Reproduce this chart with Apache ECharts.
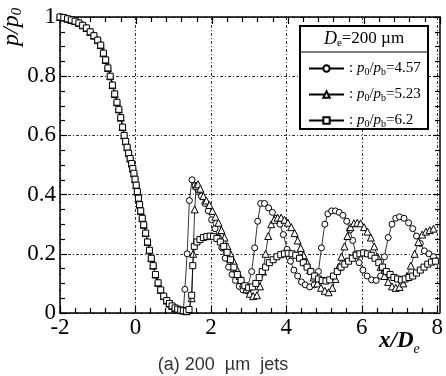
<!DOCTYPE html>
<html>
<head>
<meta charset="utf-8">
<script src="https://cdn.jsdelivr.net/npm/echarts@6/dist/echarts.min.js"></script>
<style>
html,body{margin:0;padding:0;background:#fff;}
#main{width:446px;height:376px;}
</style>
</head>
<body>
<div id="main"></div>
<script>
// Shared decline region (all three series overlap here)
var decline = [
  [-2.0,1.0],[-1.9,0.998],[-1.8,0.994],[-1.7,0.99],[-1.6,0.986],[-1.5,0.98],[-1.4,0.972],
  [-1.3,0.963],[-1.2,0.95],[-1.1,0.937],[-1.0,0.922],[-0.92,0.905],[-0.85,0.878],[-0.79,0.855],
  [-0.73,0.828],[-0.67,0.8],[-0.61,0.77],[-0.55,0.74],[-0.49,0.712],[-0.44,0.688],[-0.39,0.66],
  [-0.34,0.628],[-0.3,0.6],[-0.26,0.58],[-0.22,0.56],[-0.18,0.54],[-0.14,0.522],[-0.1,0.505],
  [-0.07,0.488],[-0.04,0.472],[-0.01,0.452],[0.02,0.432],[0.05,0.41],[0.08,0.388],[0.11,0.366],
  [0.14,0.345],[0.18,0.32],[0.22,0.298],[0.27,0.27],[0.32,0.24],[0.37,0.212],[0.42,0.185],
  [0.47,0.16],[0.53,0.13],[0.6,0.102],[0.67,0.078],[0.75,0.057],[0.83,0.042],[0.9,0.032],
  [0.97,0.024],[1.05,0.017],[1.12,0.013],[1.2,0.01],[1.27,0.008]
];
// p0/pb = 4.57 (circles)
var tail457 = [
  [1.31,0.08],[1.37,0.2],[1.43,0.38],[1.5,0.45],[1.58,0.43],[1.66,0.415],[1.75,0.395],[1.84,0.37],
  [1.93,0.345],[2.02,0.315],[2.11,0.285],[2.2,0.255],[2.29,0.22],[2.38,0.185],[2.47,0.155],
  [2.56,0.13],[2.65,0.11],[2.75,0.09],[2.85,0.078],[2.95,0.075],[3.08,0.14],[3.16,0.22],
  [3.24,0.31],[3.32,0.37],[3.42,0.37],[3.53,0.355],[3.63,0.34],[3.73,0.32],[3.83,0.3],
  [3.92,0.265],[4.02,0.215],[4.11,0.175],[4.2,0.145],[4.3,0.125],[4.4,0.105],[4.5,0.095],
  [4.62,0.088],[4.74,0.095],[4.85,0.14],[4.93,0.22],[5.02,0.3],[5.1,0.335],[5.2,0.345],
  [5.3,0.345],[5.4,0.34],[5.5,0.33],[5.6,0.31],[5.68,0.28],[5.76,0.245],[5.84,0.2],[5.93,0.17],
  [6.03,0.145],[6.14,0.125],[6.26,0.112],[6.38,0.11],[6.5,0.125],[6.6,0.19],[6.7,0.255],
  [6.8,0.3],[6.9,0.32],[7.0,0.325],[7.12,0.32],[7.24,0.305],[7.35,0.285],[7.45,0.26],
  [7.55,0.235],[7.66,0.21],[7.78,0.2],[7.9,0.19]
];
// p0/pb = 5.23 (triangles)
var tail523 = [
  [1.35,0.006],[1.42,0.01],[1.49,0.05],[1.53,0.2],[1.57,0.35],[1.61,0.43],[1.66,0.435],
  [1.72,0.42],[1.8,0.395],[1.88,0.38],[1.96,0.365],[2.04,0.345],[2.12,0.325],[2.2,0.305],
  [2.28,0.28],[2.36,0.255],[2.44,0.225],[2.52,0.2],[2.6,0.175],[2.68,0.15],[2.76,0.125],
  [2.85,0.1],[2.94,0.08],[3.03,0.065],[3.12,0.057],[3.22,0.06],[3.3,0.09],[3.38,0.14],
  [3.45,0.2],[3.52,0.26],[3.6,0.3],[3.68,0.315],[3.77,0.322],[3.86,0.322],[3.95,0.315],
  [4.04,0.305],[4.13,0.29],[4.22,0.27],[4.3,0.245],[4.38,0.22],[4.46,0.195],[4.55,0.17],
  [4.63,0.145],[4.72,0.12],[4.82,0.1],[4.92,0.085],[5.02,0.075],[5.12,0.07],[5.22,0.085],
  [5.3,0.115],[5.38,0.155],[5.46,0.19],[5.54,0.225],[5.62,0.26],[5.7,0.29],[5.79,0.303],
  [5.88,0.305],[5.97,0.303],[6.06,0.29],[6.15,0.275],[6.24,0.255],[6.33,0.225],[6.42,0.19],
  [6.5,0.155],[6.6,0.125],[6.7,0.105],[6.8,0.09],[6.9,0.085],[7.0,0.088],[7.1,0.1],
  [7.2,0.125],[7.3,0.16],[7.4,0.2],[7.5,0.24],[7.6,0.265],[7.7,0.275],[7.8,0.28],[7.9,0.285]
];
// p0/pb = 6.2 (squares)
var tail62 = [
  [1.35,0.006],[1.42,0.012],[1.49,0.06],[1.52,0.16],[1.56,0.225],[1.63,0.24],[1.71,0.248],
  [1.8,0.255],[1.89,0.258],[1.98,0.26],[2.07,0.258],[2.16,0.252],[2.25,0.24],[2.34,0.225],
  [2.43,0.205],[2.52,0.18],[2.61,0.155],[2.7,0.13],[2.8,0.11],[2.9,0.092],[3.0,0.085],
  [3.1,0.088],[3.19,0.1],[3.28,0.12],[3.36,0.14],[3.45,0.155],[3.55,0.17],[3.65,0.18],
  [3.75,0.19],[3.85,0.197],[3.95,0.2],[4.05,0.202],[4.15,0.2],[4.25,0.195],[4.35,0.185],
  [4.45,0.17],[4.55,0.155],[4.65,0.14],[4.75,0.125],[4.85,0.115],[4.95,0.11],[5.05,0.108],
  [5.15,0.112],[5.25,0.125],[5.35,0.14],[5.45,0.155],[5.55,0.165],[5.65,0.175],[5.75,0.185],
  [5.85,0.195],[5.95,0.2],[6.05,0.203],[6.15,0.2],[6.25,0.195],[6.35,0.185],[6.45,0.17],
  [6.55,0.155],[6.65,0.14],[6.75,0.13],[6.85,0.12],[6.95,0.115],[7.05,0.112],[7.15,0.115],
  [7.25,0.12],[7.35,0.125],[7.45,0.135],[7.55,0.145],[7.65,0.155],[7.75,0.165],[7.85,0.172],
  [7.95,0.175]
];
var seriesNames = ['4.57', '5.23', '6.2'];
var seriesSymbols = ['circle', 'triangle', 'rect'];
var xTicks = { min: -2, max: 8, interval: 2 };
var yTicks = { min: 0, max: 1, interval: 0.2 };

var serif = "'Liberation Serif','Times New Roman',serif";
var chart = echarts.init(document.getElementById('main'), null, { renderer: 'canvas' });

var allData = [decline.concat(tail457), decline.concat(tail523), decline.concat(tail62)];
var sizes = [6, 7, 6];

function mkSeries(i) {
  return {
    name: seriesNames[i],
    type: 'line',
    xAxisIndex: 0,
    yAxisIndex: 0,
    data: allData[i],
    symbol: seriesSymbols[i],
    symbolSize: sizes[i],
    showAllSymbol: true,
    lineStyle: { color: '#000', width: 0.8 },
    itemStyle: { color: '#fff', borderColor: '#000', borderWidth: 1 },
    emphasis: { disabled: true },
    z: 3 + i
  };
}

function gridLine(show) { return { show: show, lineStyle: { color: '#333', width: 1, type: [3, 2, 1, 2] } }; }
function tick() { return { show: true, inside: true, length: 7, lineStyle: { color: '#000', width: 1.2 } }; }
function minor(n) { return { show: true, splitNumber: n, length: 5, lineStyle: { color: '#000', width: 1.2 } }; }
function axLine() { return { show: true, onZero: false, lineStyle: { color: '#000', width: 1.5 } }; }

var gridBox = { left: 60, top: 17, right: 6, bottom: 63 };

var option = {
  animation: false,
  backgroundColor: '#fff',
  grid: [
    Object.assign({}, gridBox),
    Object.assign({}, gridBox)
  ],
  title: {
    text: '(a) 200  \u00b5m  jets',
    left: 'center',
    top: 351,
    textStyle: { fontFamily: "'Liberation Sans',Arial,sans-serif", fontSize: 18, fontWeight: 'normal', color: '#333' }
  },
  legend: {
    orient: 'vertical',
    left: 303,
    top: 55,
    itemWidth: 35,
    itemHeight: 8,
    itemGap: 9,
    z: 10,
    data: seriesNames,
    formatter: function (n) { return ': {i|p}{s|0}/{i|p}{s|b}{t|=' + n + '}'; },
    textStyle: {
      fontFamily: serif, fontSize: 15, color: '#000', lineHeight: 17,
      rich: {
        i: { fontFamily: serif, fontStyle: 'italic', fontSize: 15, color: '#000', verticalAlign: 'middle', lineHeight: 17 },
        s: { fontFamily: serif, fontSize: 10, color: '#000', verticalAlign: 'bottom', lineHeight: 17 },
        t: { fontFamily: serif, fontSize: 15, color: '#000', verticalAlign: 'middle', lineHeight: 17 }
      }
    }
  },
  xAxis: [
    {
      type: 'value', gridIndex: 0, position: 'bottom', min: xTicks.min, max: xTicks.max, interval: xTicks.interval,
      axisLine: axLine(), axisTick: tick(), minorTick: minor(5), splitLine: gridLine(true),
      axisLabel: { fontFamily: serif, fontSize: 23, color: '#000', margin: 3 }
    },
    {
      type: 'value', gridIndex: 1, position: 'top', min: xTicks.min, max: xTicks.max, interval: xTicks.interval,
      axisLine: axLine(), axisTick: tick(), minorTick: minor(5), splitLine: gridLine(false),
      axisLabel: { show: false }
    }
  ],
  yAxis: [
    {
      type: 'value', gridIndex: 0, position: 'left', min: yTicks.min, max: yTicks.max, interval: yTicks.interval,
      axisLine: axLine(), axisTick: tick(), minorTick: minor(4), splitLine: gridLine(true),
      axisLabel: { fontFamily: serif, fontSize: 23, color: '#000', margin: 4,
        formatter: function (v) { return String(Math.round(v * 10) / 10); } }
    },
    {
      type: 'value', gridIndex: 1, position: 'right', min: yTicks.min, max: yTicks.max, interval: yTicks.interval,
      axisLine: axLine(), axisTick: tick(), minorTick: minor(4), splitLine: gridLine(false),
      axisLabel: { show: false }
    }
  ],
  graphic: [
    {
      type: 'rect', z: 8,
      shape: { x: 300, y: 26, width: 128, height: 103 },
      style: { fill: '#fff', stroke: '#000', lineWidth: 2 }
    },
    {
      type: 'line', z: 9,
      shape: { x1: 300, y1: 52, x2: 428, y2: 52 },
      style: { stroke: '#000', lineWidth: 1.2 }
    },
    {
      type: 'text', z: 9, x: 364, y: 39,
      style: {
        text: '{i|D}{s|e}{t|=200 \u00b5m}',
        align: 'center', verticalAlign: 'middle',
        font: '17px ' + serif, fill: '#000',
        rich: {
          i: { fontFamily: serif, fontStyle: 'italic', fontSize: 18, verticalAlign: 'middle', lineHeight: 20 },
          s: { fontFamily: serif, fontSize: 11, verticalAlign: 'bottom', lineHeight: 20 },
          t: { fontFamily: serif, fontSize: 17, verticalAlign: 'middle', lineHeight: 20 }
        }
      }
    },
    {
      type: 'text', z: 9, x: 12, y: 46, rotation: Math.PI / 2,
      style: {
        text: '{i|p/p}{s|0}',
        align: 'left', verticalAlign: 'middle',
        fill: '#000',
        rich: {
          i: { fontFamily: serif, fontStyle: 'italic', fontSize: 24, verticalAlign: 'middle', lineHeight: 26 },
          s: { fontFamily: serif, fontStyle: 'italic', fontSize: 15, verticalAlign: 'bottom', lineHeight: 26 }
        }
      }
    },
    {
      type: 'text', z: 9, x: 379, y: 341,
      style: {
        text: '{i|x/D}{s|e}',
        align: 'left', verticalAlign: 'middle',
        fill: '#000',
        rich: {
          i: { fontFamily: serif, fontStyle: 'italic', fontWeight: 'bold', fontSize: 23, verticalAlign: 'middle', lineHeight: 30 },
          s: { fontFamily: serif, fontStyle: 'italic', fontSize: 14, verticalAlign: 'bottom', lineHeight: 30 }
        }
      }
    }
  ],
  series: [mkSeries(0), mkSeries(1), mkSeries(2)]
};
chart.setOption(option);
</script>
</body>
</html>
